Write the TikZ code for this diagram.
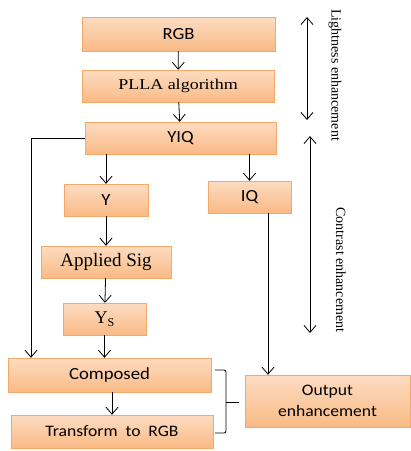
\documentclass[tikz,border=0pt]{standalone}
\usepackage{fontspec}
\usepackage{tikz}
\usetikzlibrary{arrows.meta,shadows}
\newfontfamily\boxsans[FakeStretch=1.1]{Carlito}
\newfontfamily\boxserif[FakeStretch=1.2]{Liberation Serif}
\newfontfamily\sideserif{Liberation Serif}
\definecolor{boxtop}{HTML}{FDDCC2}
\definecolor{boxbot}{HTML}{F9BA85}
\definecolor{boxline}{HTML}{F4A86A}
\tikzset{
        stage/.style={
                draw=boxline,
                thin,
                top color=boxtop,
                bottom color=boxbot,
                inner sep=0pt,
                align=center,
                drop shadow={opacity=0.2,shadow xshift=1.2pt,shadow yshift=-1.2pt}
        },
        sanslabel/.style={font=\boxsans\fontsize{17}{19}\selectfont},
        seriflabel/.style={font=\sideserif\fontsize{#1}{#1}\selectfont},
        flow/.style={
                -{Straight Barb[length=7pt,width=12pt]},
                line width=0.8pt
        },
        span/.style={
                {Straight Barb[length=7pt,width=12pt]}-{Straight Barb[length=7pt,width=12pt]},
                line width=0.8pt
        }
}
\begin{document}
\begin{tikzpicture}[x=1pt,y=-1pt]
                        \useasboundingbox (0,0) rectangle (411,451);

                        \node[stage,sanslabel,minimum width=193pt,minimum height=34pt] (rgb) at (178.5,34) {RGB};
                        \node[stage,font=\boxserif\fontsize{15}{15}\selectfont,minimum width=192pt,minimum height=32pt] (plla) at (178,86) {PLLA algorithm};
                        \node[stage,sanslabel,minimum width=191pt,minimum height=32pt] (yiq) at (180.5,138) {YIQ};
                        \node[stage,sanslabel,minimum width=84pt,minimum height=32pt] (y) at (106,200) {Y};
                        \node[stage,sanslabel,minimum width=83pt,minimum height=32pt] (iq) at (249.5,197) {IQ};
                        \node[stage,seriflabel=19,minimum width=130pt,minimum height=32pt] (sig) at (106,262) {Applied Sig};
                        \node[stage,seriflabel=18,minimum width=83pt,minimum height=32pt] (ys) at (104.5,319) {Y\raisebox{-2.5pt}{\fontsize{12}{12}\selectfont S}};
                        \node[stage,sanslabel,minimum width=203pt,minimum height=34pt] (comp) at (109.5,375) {Composed};
                        \node[stage,font=\boxsans\fontsize{16}{16}\selectfont,minimum width=202pt,minimum height=33pt] (trans) at (112,431.5) {Transform\ \ to\ \ RGB};
                        \node[stage,font=\boxsans\fontsize{16}{21}\selectfont,minimum width=165pt,minimum height=52pt] (out) at (327.5,401) {Output\\enhancement};

                        % side labels
                        \node[rotate=-90,seriflabel=14] (light) at (335,75) {Lightness enhancement};
                        \node[rotate=-90,seriflabel=14] (contrast) at (341,270) {Contrast enhancement};

                        \coordinate (lt) at (307,17);
                        \coordinate (lb) at (307,120);
                        \coordinate (ct) at (310,136);
                        \coordinate (cb) at (310,333);
                        \draw[span] (lt) -- (lb);
                        \draw[span] (ct) -- (cb);

                        % main flow
                        \draw[flow] (rgb) -- (plla);
                        \draw[flow] (plla) -- (yiq);
                        \draw[flow] (yiq.south -| y.north) -- (y.north);
                        \draw[flow] (yiq.south -| iq.north) -- (iq.north);
                        \draw[flow] (y) -- (sig);
                        \draw[flow] (sig) -- (ys);
                        \draw[flow] (ys.south) -- (comp.north -| ys.south);
                        \draw[flow] (comp.south -| trans.north) -- (trans.north);

                        \coordinate (left) at (31,0);
                        \coordinate (right) at (268,0);
                        \draw[flow] (yiq.west) -| (left |- comp.north);
                        \draw[flow] (right |- iq.south) -- (right |- out.north);

                        % bracket
                        \coordinate (bt) at (215,370);
                        \coordinate (bb) at (215,433);
                        \coordinate (bm) at (226,402);
                        \draw[line width=0.8pt,rounded corners=2pt] (bt) -- (226,370) -- (bm) -- (226,433) -- (bb);
                        \draw[line width=0.8pt] (bm) -- (bm -| 239,0);
\end{tikzpicture}
\end{document}
